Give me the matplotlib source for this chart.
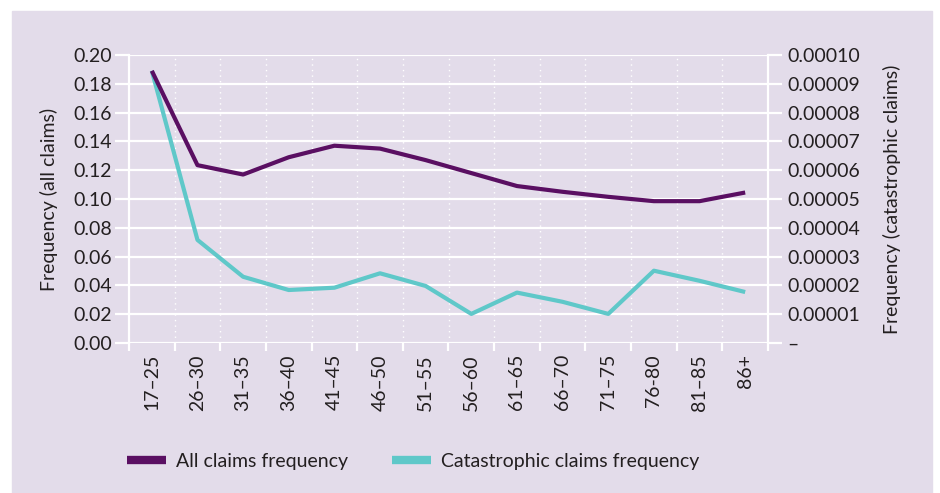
import matplotlib.pyplot as plt
from matplotlib.patches import Rectangle

plt.rcParams['font.family'] = ['Lato', 'DejaVu Sans']

ages = ["17–25", "26–30", "31–35", "36–40", "41–45", "46–50", "51–55",
        "56–60", "61–65", "66–70", "71–75", "76-80", "81–85", "86+"]
all_claims = [0.189, 0.1235, 0.117, 0.129, 0.137, 0.135, 0.127,
              0.118, 0.109, 0.105, 0.1015, 0.0985, 0.0985, 0.1045]
cat_claims = [0.0000945, 0.0000358, 0.0000230, 0.0000184, 0.0000192, 0.0000242, 0.0000198,
              0.0000101, 0.0000175, 0.0000143, 0.0000101, 0.0000251, 0.0000216, 0.0000177]
left_ticks = [0.00, 0.02, 0.04, 0.06, 0.08, 0.10, 0.12, 0.14, 0.16, 0.18, 0.20]
right_ticks = [0, 0.00001, 0.00002, 0.00003, 0.00004, 0.00005,
               0.00006, 0.00007, 0.00008, 0.00009, 0.00010]
right_labels = ["–"] + ["%.5f" % v for v in right_ticks[1:]]

purple = "#5a0f62"
cyan = "#5fc8c9"
bg = "#e3dcea"
txt = "#231f20"

fig = plt.figure(figsize=(9.4, 4.93), dpi=100)
fig.patch.set_facecolor("white")
panel = Rectangle((12 / 940, 0), 920 / 940, 1 - 11 / 493,
                  transform=fig.transFigure, color=bg, zorder=-10)
fig.add_artist(panel)

ax = fig.add_axes([129 / 940, 1 - 343 / 493, 639 / 940, 288 / 493])
ax2 = ax.twinx()

x = range(len(ages))
ax.plot(x, all_claims, color=purple, lw=3, solid_capstyle="butt", zorder=4)
ax2.plot(x, cat_claims, color=cyan, lw=3, solid_capstyle="butt", zorder=3)
ax2.set_zorder(ax.get_zorder() - 1)
ax.patch.set_visible(False)
ax2.patch.set_visible(False)

ax.set_xlim(-0.5, len(ages) - 0.5)
ax.set_ylim(0, 0.2)
ax2.set_ylim(0, 0.0001)

# horizontal grid (on the lower axes so lines sit on top)
for v in right_ticks:
    ax2.axhline(v, color="white", lw=1.6, zorder=1)
# vertical dotted grid at category boundaries
for b in range(len(ages) - 1):
    ax2.axvline(b + 0.5, color="white", lw=1, ls=(0, (1, 3)), zorder=1)

ax.set_yticks(left_ticks)
ax.set_yticklabels(["%.2f" % v for v in left_ticks])
ax2.set_yticks(right_ticks)
ax2.set_yticklabels(right_labels)

ax.set_xticks([b - 0.5 for b in range(len(ages) + 1)], minor=False)
ax.set_xticklabels([])
ax.set_xticks(list(x), minor=True)
ax.set_xticklabels(ages, minor=True, rotation=90)
ax.tick_params(axis="x", which="major", length=6, width=1.6, color="white")
ax.tick_params(axis="x", which="minor", length=0, pad=8, labelsize=14, labelcolor=txt)
ax.tick_params(axis="y", length=10, width=1.6, color="white", labelsize=14,
               labelcolor=txt, pad=2)
ax2.tick_params(axis="y", length=10, width=1.6, color="white", labelsize=14,
                labelcolor=txt, pad=4)

for a in (ax, ax2):
    for s in a.spines.values():
        s.set_visible(False)
ax.spines["left"].set_visible(True)
ax.spines["left"].set_color("white")
ax.spines["left"].set_linewidth(1.6)
ax2.spines["right"].set_visible(True)
ax2.spines["right"].set_color("white")
ax2.spines["right"].set_linewidth(1.6)

ax.set_ylabel("Frequency (all claims)", fontsize=14, color=txt, labelpad=11)
ax2.set_ylabel("Frequency (catastrophic claims)", fontsize=14, color=txt, labelpad=16)

handles = [plt.Line2D([], [], color=purple, lw=6, solid_capstyle="butt"),
           plt.Line2D([], [], color=cyan, lw=6, solid_capstyle="butt")]
fig.legend(handles, ["All claims frequency", "Catastrophic claims frequency"],
           loc="center left", bbox_to_anchor=(127 / 940, 1 - 461 / 493), ncol=2,
           frameon=False, fontsize=14, handlelength=2.0, handletextpad=0.5,
           columnspacing=2.3, borderpad=0, borderaxespad=0, labelcolor=txt)

fig.savefig("out.png", dpi=100, facecolor=fig.get_facecolor())
